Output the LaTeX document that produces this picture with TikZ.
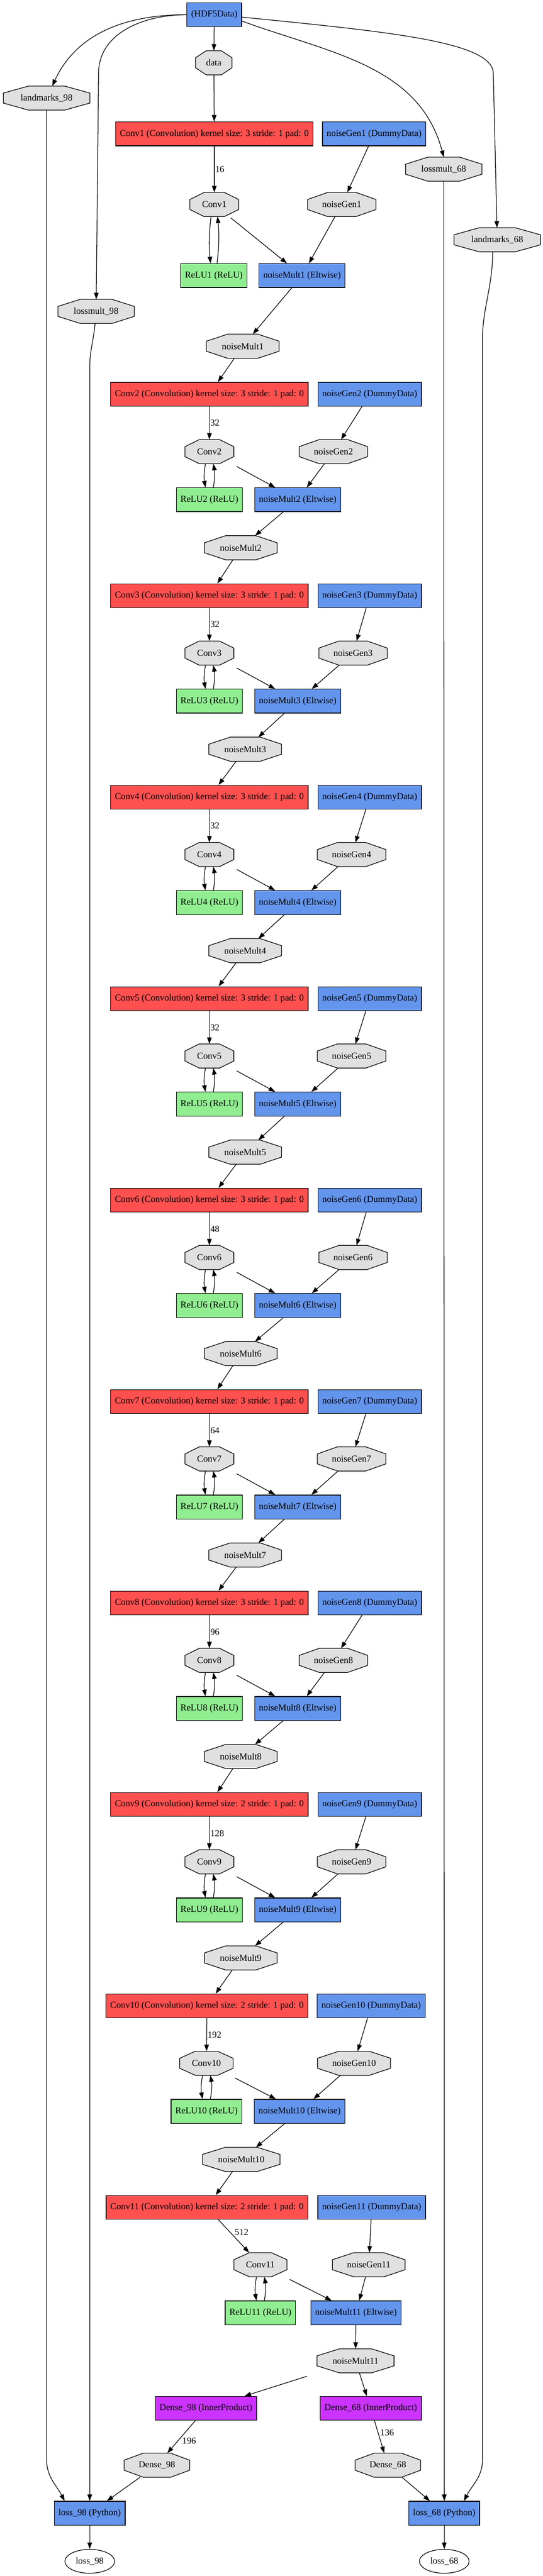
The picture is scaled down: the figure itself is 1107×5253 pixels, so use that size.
\documentclass[tikz,border=0pt]{standalone}
\usepackage{fontspec}
\setmainfont{Liberation Serif}
\usepackage{tikz}
\usetikzlibrary{calc,arrows.meta,shapes.geometric,backgrounds}
\definecolor{convred}{HTML}{FF5050}
\definecolor{layerblue}{HTML}{6495ED}
\definecolor{relugreen}{HTML}{90EE90}
\definecolor{ipviolet}{HTML}{CC33FF}
\definecolor{blobgrey}{HTML}{E0E0E0}
\tikzset{
    layer/.style={
    rectangle,draw=black,line width=1pt,minimum height=36.5pt,minimum width=54pt,inner xsep=6.5pt
    },
    conv/.style={
    layer,fill=convred
    },
    other/.style={
    layer,fill=layerblue
    },
    relu/.style={
    layer,fill=relugreen
    },
    dense/.style={
    layer,fill=ipviolet
    },
    blob/.style={
    rectangle,minimum height=36.5pt,inner xsep=#1
    },
    blob/.default=22pt,
    octo/.style={
    fill=blobgrey,draw=black,line width=1pt
    },
    sink/.style={
    ellipse,draw=black,line width=1pt,minimum width=76pt,minimum height=36.5pt
    },
    flow/.style={
    line width=1pt,-{Triangle[length=10pt,width=7pt]}
    },
    chan/.style={
    inner sep=1pt
    },
}
% grey octagon drawn behind a blob node
\newcommand{\blobshape}[1]{%
  \filldraw[octo] ($(#1.north west)!.293!(#1.north east)$) -- ($(#1.north west)!.707!(#1.north east)$)
   -- ($(#1.north east)!.293!(#1.south east)$) -- ($(#1.north east)!.707!(#1.south east)$)
   -- ($(#1.south east)!.293!(#1.south west)$) -- ($(#1.south east)!.707!(#1.south west)$)
   -- ($(#1.south west)!.293!(#1.north west)$) -- ($(#1.south west)!.707!(#1.north west)$) -- cycle;}

\begin{document}
\begin{tikzpicture}[x=0.75pt, y=-0.75pt, auto, font=\fontsize{14}{16}\selectfont]
   \useasboundingbox (0,0) rectangle (1107,5253);
   % input and the side blobs
   \node[other] (hdf) at (437,30) {(HDF5Data)};
   \node[blob=16pt] (data) at (436,128) {data};
   \node[blob=26.3pt] (lm98) at (95,200) {landmarks\_98};
   \node[blob=24pt] (lo98) at (196,635) {lossmult\_98};
   \node[blob=24pt] (lo68) at (905,345) {lossmult\_68};
   \node[blob=26.3pt] (lm68) at (1014,489) {landmarks\_68};
   \coordinate (w98) at (201,150);
   \coordinate (w98b) at (183,750);
   \coordinate (lm98b) at (95,5015);
   \coordinate (w68) at (1006,150);
   \coordinate (w68b) at (984,690);
   \coordinate (w68c) at (984,5015);

   % first block
   \node[conv] (conv1) at (437,273) {Conv1 (Convolution) kernel size: 3 stride: 1 pad: 0};
   \node[other] (gen1) at (763,273) {noiseGen1 (DummyData)};
   \node[blob=18.5pt] (co1) at (437,417) {Conv1};
   \node[blob=22.2pt] (go1) at (697,417) {noiseGen1};
   \node[relu] (relu1) at (436,562) {ReLU1 (ReLU)};
   \node[other] (mult1) at (616,562) {noiseMult1 (Eltwise)};
   \node[blob=23.6pt] (mo1) at (495,706) {noiseMult1};

   \draw[flow] (hdf) -- (data);
   \draw[flow] (data) -- (conv1);
   \draw[flow] (conv1) -- node[chan] {16} (co1);
   \draw[flow] (gen1) -- (go1);
   \draw[flow] ([xshift=-5pt]co1.south) to[bend right=6] ([xshift=-5pt]relu1.north);
   \draw[flow] ([xshift=5pt]relu1.north) to[bend right=6] ([xshift=5pt]co1.south);
   \draw[flow,shorten <=3pt] (co1) -- (mult1);
   \draw[flow] (go1) -- (mult1);
   \draw[flow] (mult1) -- (mo1);

   % blocks 2 to 11
   \foreach \k/\ks/\ch/\cx/\gx/\ox/\gox/\ex/\mx in {
      2/3/32/427/754/427/680/607/491, 3/3/32/427/754/427/720/607/500,
      4/3/32/427/754/427/717/607/500, 5/3/32/427/754/427/717/607/500,
      6/3/48/427/754/427/720/607/491, 7/3/64/427/754/427/717/607/500,
      8/3/96/427/754/427/680/607/491, 9/2/128/427/754/427/717/607/491,
      10/2/192/422/757/421/722/611/492, 11/2/512/422/758/531/752/726/725} {
     \pgfmathsetmacro\yb{804+410.8*(\k-2)}
     \pgfmathtruncatemacro\prev{\k-1}
     \node[conv] (conv\k) at (\cx,\yb) {Conv\k{} (Convolution) kernel size: \ks{} stride: 1 pad: 0};
     \node[other] (gen\k) at (\gx,\yb) {noiseGen\k{} (DummyData)};
     \node[blob=18.5pt] (co\k) at (\ox,\yb+117) {Conv\k};
     \node[blob=22.2pt] (go\k) at (\gox,\yb+117) {noiseGen\k};
     \node[relu] (relu\k) at (\ox,\yb+215) {ReLU\k{} (ReLU)};
     \node[other] (mult\k) at (\ex,\yb+215) {noiseMult\k{} (Eltwise)};
     \node[blob=23.6pt] (mo\k) at (\mx,\yb+313) {noiseMult\k};

     \draw[flow] (mo\prev) -- (conv\k);
     \draw[flow] (conv\k) -- node[chan] {\ch} (co\k);
     \draw[flow] (gen\k) -- (go\k);
     \draw[flow] ([xshift=-6pt]co\k.south) to[bend right=10] ([xshift=-6pt]relu\k.north);
     \draw[flow] ([xshift=6pt]relu\k.north) to[bend right=10] ([xshift=6pt]co\k.south);
     \draw[flow,shorten <=9pt] (co\k) -- (mult\k);
     \draw[flow] (go\k) -- (mult\k);
     \draw[flow] (mult\k) -- (mo\k);
   }

   % heads and losses
   \node[dense] (fc98) at (420,4911) {Dense\_98 (InnerProduct)};
   \node[dense] (fc68) at (756,4911) {Dense\_68 (InnerProduct)};
   \node[blob=22pt] (do98) at (320,5027) {Dense\_98};
   \node[blob=22pt] (do68) at (791,5027) {Dense\_68};
   \node[other] (l98) at (183,5125) {loss\_98 (Python)};
   \node[other] (l68) at (906,5125) {loss\_68 (Python)};
   \node[sink] (s98) at (183,5223) {loss\_98};
   \node[sink] (s68) at (906,5223) {loss\_68};

   \draw[flow,shorten <=17pt] (mo11) -- (fc98);
   \draw[flow] (mo11) -- (fc68);
   \draw[flow] (fc98) -- node[chan] {196} (do98);
   \draw[flow] (fc68) -- node[chan] {136} (do68);
   \draw[flow] (do98) -- (l98);
   \draw[flow] (do68) -- (l68);
   \draw[flow] (l98) -- (s98);
   \draw[flow] (l68) -- (s68);

   % long connectors from the input
   \draw[flow] (hdf.west) to[out=180,in=65] (lm98);
   \draw[flow] (hdf.west) to[out=180,in=90] (w98) -- (lo98);
   \draw[flow] (hdf.-13) to[out=-20,in=105] (lo68.north);
   \draw[flow] (hdf.-5) .. controls +(300,30) and +(0,-65) .. (w68) -- (lm68);
   \draw[flow] (lm98) -- (lm98b) to[out=-90,in=117] (l98.154);
   \draw[flow] (lo98) to[out=-95,in=90] (w98b) -- (l98);
   \draw[flow] (lo68) -- (l68);
   \draw[flow] ([xshift=-7pt]lm68.south) .. controls +(0,70) and +(0,-60) .. (w68b) -- (w68c) to[out=-90,in=63] (l68.32);

   \begin{scope}[on background layer]
     \foreach \b in {data,lm98,lo98,lo68,lm68,do98,do68} {\blobshape{\b}}
     \foreach \k in {1,...,11} {\blobshape{co\k} \blobshape{go\k} \blobshape{mo\k}}
   \end{scope}
\end{tikzpicture}
\end{document}
